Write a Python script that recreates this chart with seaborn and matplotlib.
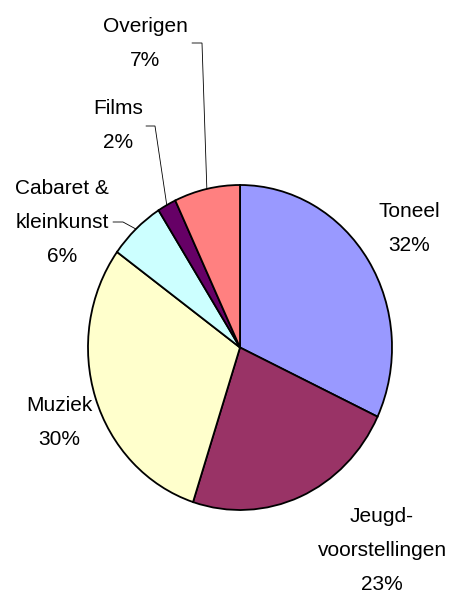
import matplotlib
matplotlib.use("Agg")
import matplotlib.pyplot as plt
import seaborn as sns
import numpy as np

# Data
categories = ["Toneel", "Jeugd-\nvoorstellingen", "Muziek",
              "Cabaret &\nkleinkunst", "Films", "Overigen"]
shares = [32, 23, 30, 6, 2, 7]
slice_colors = ["#9999FF", "#993366", "#FFFFCC", "#CCFFFF", "#660066", "#FF8080"]

sns.set_theme(style="white")
plt.rcParams['font.family'] = ['Liberation Sans', 'DejaVu Sans']
palette = sns.color_palette(slice_colors)

# pie geometry in pixels (the pie is drawn slightly taller than wide)
CX, CY = 240, 347.5
RX, RY = 152, 162.5


def to_data(x, y):
    return (x - CX) / RX, (CY - y) / RY


# label anchors: centre x, baseline y of the last line (pixels)
label_pos = [(409, 251), (382, 590), (59.5, 445), (62, 262), (118, 148), (145, 66)]
# leader lines: slice index -> (x start, x elbow, y) in pixels
leaders = {3: (113, 123, 222), 4: (146, 155, 126), 5: (192, 202, 43)}

fig = plt.figure(figsize=(4.5, 5.91), dpi=100)
ax = fig.add_axes([0, 0, 1, 1])
wedges, _ = ax.pie(shares, colors=palette, startangle=90, counterclock=False,
                   radius=1, center=(0, 0),
                   wedgeprops=dict(edgecolor='black', linewidth=1.3))
ax.set_aspect('auto')
ax.set_xlim(to_data(0, 0)[0], to_data(450, 0)[0])
ax.set_ylim(to_data(0, 591)[1], to_data(0, 0)[1])
ax.axis('off')

for i, (name, val) in enumerate(zip(categories, shares)):
    x, y = to_data(*label_pos[i])
    ax.text(x, y, f"{name}\n{val}%", ha='center', va='baseline',
            fontsize=15, linespacing=2.0, color='black')
    if i in leaders:
        xs, xe, yl = leaders[i]
        mid = np.deg2rad((wedges[i].theta1 + wedges[i].theta2) / 2)
        p0 = to_data(xs, yl)
        p1 = to_data(xe, yl)
        ax.plot([p0[0], p1[0], np.cos(mid)], [p0[1], p1[1], np.sin(mid)],
                color='black', linewidth=0.6, solid_joinstyle='miter')

fig.savefig("out.png", dpi=100)
